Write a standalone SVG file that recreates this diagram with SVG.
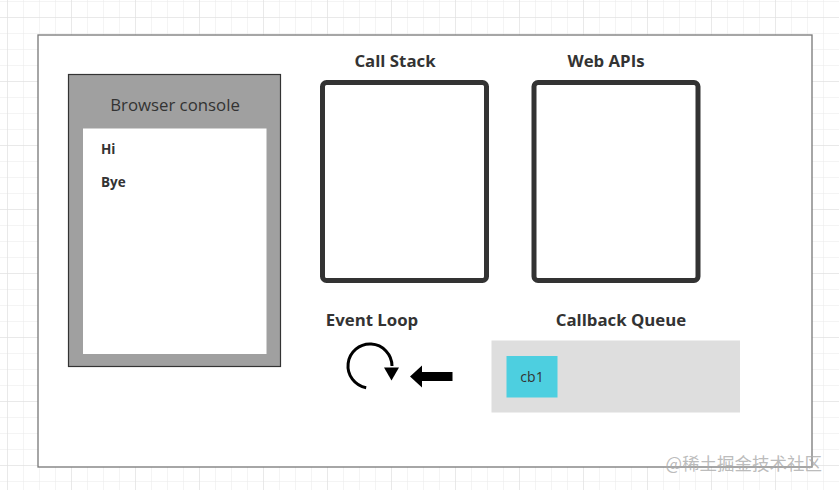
<svg xmlns="http://www.w3.org/2000/svg" width="839" height="490" viewBox="0 0 839 490">
  <defs>
    <pattern id="grid" x="7" y="1" width="16" height="16" patternUnits="userSpaceOnUse">
      <path d="M0 0H16M0 0V16" fill="none" stroke="#e9e9e9" stroke-width="1"/>
    </pattern>
    <pattern id="gridMajor" x="7" y="17" width="64" height="64" patternUnits="userSpaceOnUse">
      <path d="M0 0H64M0 0V64" fill="none" stroke="#dedede" stroke-width="1"/>
    </pattern>
  </defs>
  <style>
    .lbl { font-family: "Open Sans", "Noto Sans", "Liberation Sans", sans-serif; fill: #333; }
    .title { font-size: 16.8px; font-weight: bold; text-anchor: middle; }
    .panel { fill: #fff; stroke: #333; stroke-width: 5; }
  </style>
  <rect width="839" height="490" fill="#fff"/>
  <rect width="839" height="490" fill="url(#grid)"/>
  <rect width="839" height="490" fill="url(#gridMajor)"/>

  <g id="frame">
    <rect x="38" y="35" width="774" height="432" fill="#fff" stroke="#777" stroke-width="1.3"/>
  </g>

  <g id="browser-console">
    <rect x="68.5" y="74.5" width="212" height="292" fill="#a0a0a0" stroke="#333" stroke-width="1.2"/>
    <rect x="83" y="128.5" width="183.5" height="225.5" fill="#fff"/>
    <text class="lbl" x="175" y="110.5" font-size="16.8" text-anchor="middle" fill="#222">Browser console</text>
    <text class="lbl" x="101" y="154" font-size="13.5" font-weight="bold">Hi</text>
    <text class="lbl" x="101" y="187" font-size="13.5" font-weight="bold">Bye</text>
  </g>

  <g id="call-stack">
    <text class="lbl title" x="395" y="66.5">Call Stack</text>
    <rect class="panel" x="322.5" y="82.5" width="164" height="198" rx="4"/>
  </g>

  <g id="web-apis">
    <text class="lbl title" x="606" y="66.5">Web APIs</text>
    <rect class="panel" x="534" y="82.5" width="164" height="198" rx="4"/>
  </g>

  <g id="event-loop">
    <text class="lbl title" x="372" y="325.5">Event Loop</text>
    <path d="M366.2 387.7 A22 22 0 1 1 392 366" fill="none" stroke="#000" stroke-width="3"/>
    <polygon points="384,367.5 399,367.5 391.5,380.5" fill="#000"/>
  </g>

  <g id="callback-queue">
    <text class="lbl title" x="621" y="325.5">Callback Queue</text>
    <rect x="491.5" y="340.5" width="248.5" height="72" fill="#dedede"/>
  </g>

  <g id="cb1">
    <rect x="506.5" y="356" width="51" height="41.5" fill="#4dcfe0"/>
    <text class="lbl" x="532" y="382" font-size="14" text-anchor="middle" fill="#222">cb1</text>
  </g>

  <g id="connectors">
    <polygon points="410,376.5 422,365.5 422,372 452.5,372 452.5,381 422,381 422,387.5" fill="#000"/>
  </g>

  <text x="822" y="470" font-family="'Noto Sans CJK SC', 'Noto Sans', sans-serif" font-size="17.5" text-anchor="end" fill="#aaa" fill-opacity="0.8">@稀土掘金技术社区</text>
</svg>
